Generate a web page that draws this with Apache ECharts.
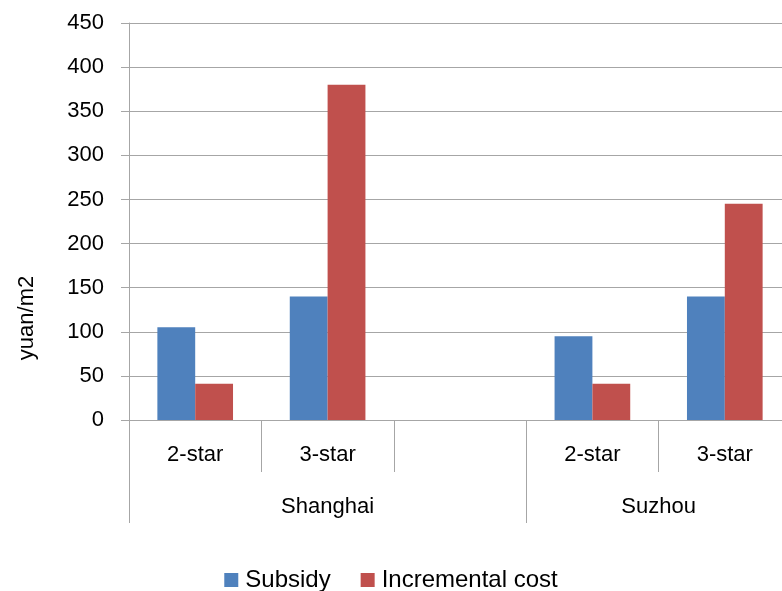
<!DOCTYPE html>
<html>
<head>
<meta charset="utf-8">
<title>Subsidy vs incremental cost</title>
<script src="https://cdn.jsdelivr.net/npm/echarts@6/dist/echarts.min.js"></script>
<style>
  html, body { margin: 0; padding: 0; background: #fff; overflow: hidden; }
  #chart { width: 782px; height: 591px; }
</style>
</head>
<body>
<div id="chart"></div>
<script>
// Star ratings within each city (blank slot separates the two cities)
const subCategories = ['2-star', '3-star', '', '2-star', '3-star'];
// City groups and how many sub-category slots each spans
const groupNames = ['Shanghai', 'Suzhou'];
const groupSpans = [3, 2];
// Values in yuan/m2
const subsidy = [105, 140, null, 95, 140];
const incrementalCost = [41, 380, null, 41, 245];
// Value axis range
const yMin = 0, yMax = 450, yStep = 50;

const FONT = "'Liberation Sans', Arial, sans-serif";
const GRID_COLOR = '#a6a6a6';

// Group boundaries and centres along the category axis (in slot units)
const groupEdges = [0];
groupSpans.forEach(s => groupEdges.push(groupEdges[groupEdges.length - 1] + s));
const groupCenters = groupSpans.map((s, i) => groupEdges[i] + s / 2);

const chart = echarts.init(document.getElementById('chart'), null, { renderer: 'canvas' });

chart.setOption({
  animation: false,
  backgroundColor: '#ffffff',
  textStyle: { fontFamily: FONT },
  // plot area runs slightly past the right edge of the canvas
  grid: {
    left: 129, top: 23, right: -9, bottom: 171,
    containLabel: false,
    outerBoundsMode: 'none'
  },
  legend: {
    data: ['Subsidy', 'Incremental cost'],
    bottom: -6,
    left: 'center',
    icon: 'rect',
    itemWidth: 14,
    itemHeight: 14,
    itemGap: 30,
    textStyle: { fontFamily: FONT, fontSize: 24, color: '#000', padding: [0, 0, 0, 2] }
  },
  xAxis: [
    {
      type: 'category',
      data: subCategories,
      position: 'bottom',
      axisLine: { show: true, lineStyle: { color: GRID_COLOR, width: 1 } },
      axisTick: { show: true, interval: 0, length: 52, lineStyle: { color: GRID_COLOR } },
      axisLabel: { interval: 0, margin: 24, fontSize: 22, color: '#000', fontFamily: FONT },
      splitLine: { show: false }
    },
    {
      type: 'value',
      position: 'bottom',
      min: 0,
      max: subCategories.length,
      axisLine: { show: false },
      axisTick: {
        show: true,
        customValues: groupEdges,
        length: 103,
        lineStyle: { color: GRID_COLOR }
      },
      axisLabel: {
        show: true,
        customValues: groupCenters,
        margin: 76,
        fontSize: 22,
        color: '#000',
        fontFamily: FONT,
        formatter: v => {
          const i = groupCenters.indexOf(v);
          return i >= 0 ? groupNames[i] : '';
        }
      },
      splitLine: { show: false }
    }
  ],
  yAxis: {
    type: 'value',
    min: yMin,
    max: yMax,
    interval: yStep,
    axisLine: { show: true, lineStyle: { color: GRID_COLOR, width: 1 } },
    axisTick: { show: true, length: 8, lineStyle: { color: GRID_COLOR } },
    axisLabel: { margin: 25, fontSize: 22, color: '#000', fontFamily: FONT },
    splitLine: { show: true, lineStyle: { color: GRID_COLOR, width: 1 } }
  },
  graphic: [
    {
      type: 'text',
      x: 27,
      y: 318,
      rotation: Math.PI / 2,
      style: {
        text: 'yuan/m2',
        fontFamily: FONT,
        fontSize: 22,
        fill: '#000',
        align: 'center',
        verticalAlign: 'middle'
      }
    }
  ],
  series: [
    {
      name: 'Subsidy',
      type: 'bar',
      xAxisIndex: 0,
      data: subsidy,
      barGap: '0%',
      barCategoryGap: '42.86%',
      itemStyle: { color: '#4f81bd' }
    },
    {
      name: 'Incremental cost',
      type: 'bar',
      xAxisIndex: 0,
      data: incrementalCost,
      barGap: '0%',
      barCategoryGap: '42.86%',
      itemStyle: { color: '#c0504d' }
    }
  ]
});
</script>
</body>
</html>
